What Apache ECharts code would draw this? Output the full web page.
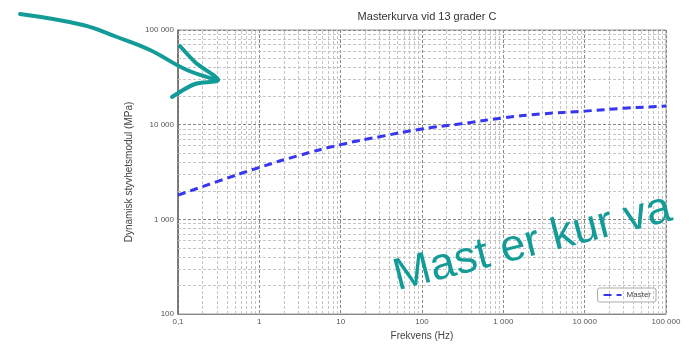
<!DOCTYPE html>
<html>
<head>
<meta charset="utf-8">
<script src="https://cdn.jsdelivr.net/npm/echarts@6/dist/echarts.min.js"></script>
<style>
html, body { margin: 0; padding: 0; background: #fff; }
#chart { width: 690px; height: 346px; }
</style>
</head>
<body>
<div id="chart"></div>
<script>
// data
var frekvens = [0.1, 0.3, 1, 3, 10, 30, 100, 300, 1000, 3000, 10000, 30000, 100000];
var modul = [1800, 2500, 3530, 4700, 6150, 7450, 9000, 10200, 11800, 13000, 13900, 14900, 15700];
var xDecades = [0.1, 1, 10, 100, 1000, 10000];
var yDecades = [100, 1000, 10000];
var legendName = 'Master';

var chart = echarts.init(document.getElementById('chart'));
var teal = '#139b97';

// swedish number format: space thousands, comma decimal
function fmt(v) {
    if (v < 1) return String(v).replace('.', ',');
    return String(Math.round(v)).replace(/\B(?=(\d{3})+(?!\d))/g, ' ');
}

// minor grid at 2..9 x decade
var minorLines = [];
xDecades.forEach(function (d) {
    for (var m = 2; m <= 9; m++) minorLines.push({ xAxis: +(d * m).toPrecision(3) });
});
yDecades.forEach(function (d) {
    for (var m = 2; m <= 9; m++) minorLines.push({ yAxis: d * m });
});

var option = {
    animation: false,
    title: {
        text: 'Masterkurva vid 13 grader C',
        left: 422, top: 6, textAlign: 'center',
        textStyle: { fontSize: 11, fontWeight: 'normal', color: '#333', fontFamily: 'Liberation Sans' }
    },
    grid: { left: 178, right: 24, top: 30, bottom: 28, show: true, borderColor: '#999', borderWidth: 1 },
    legend: {
        data: [legendName],
        right: 34, bottom: 44,
        orient: 'vertical',
        backgroundColor: '#fff',
        borderColor: '#aaa', borderWidth: 1, borderRadius: 2,
        padding: [3, 5],
        itemWidth: 18, itemHeight: 6, itemGap: 4,
        itemStyle: { opacity: 0 },
        textStyle: { fontSize: 8, color: '#444', fontFamily: 'Liberation Sans' }
    },
    xAxis: {
        type: 'log', logBase: 10, min: 0.1, max: 100000,
        name: 'Frekvens (Hz)', nameLocation: 'middle', nameGap: 17,
        nameTextStyle: { fontSize: 10, color: '#444', fontFamily: 'Liberation Sans' },
        axisLine: { lineStyle: { color: '#888' } },
        axisTick: { show: false },
        axisLabel: { fontSize: 8, color: '#555', margin: 4, formatter: fmt, fontFamily: 'Liberation Sans' },
        splitLine: { show: true, lineStyle: { color: '#888', type: [3, 2], width: 1 } }
    },
    yAxis: {
        type: 'log', logBase: 10, min: 100, max: 100000,
        name: 'Dynamisk styvhetsmodul (MPa)', nameLocation: 'middle', nameGap: 40,
        nameTextStyle: { fontSize: 10, color: '#444', fontFamily: 'Liberation Sans' },
        axisLine: { show: true, lineStyle: { color: '#666', width: 1.5 } },
        axisTick: { show: false },
        axisLabel: { fontSize: 8, color: '#555', margin: 4, formatter: fmt, fontFamily: 'Liberation Sans' },
        splitLine: { show: true, lineStyle: { color: '#888', type: [3, 2], width: 1 } }
    },
    series: [
        {
            name: 'grid',
            type: 'line',
            data: [],
            silent: true,
            z: 1,
            markLine: {
                silent: true, symbol: 'none', animation: false,
                label: { show: false },
                lineStyle: { color: '#c4c4c4', type: [3, 2], width: 1 },
                data: minorLines
            }
        },
        {
            name: legendName,
            type: 'line',
            z: 5,
            data: frekvens.map(function (f, i) { return [f, modul[i]]; }),
            smooth: true,
            symbol: 'none',
            itemStyle: { color: '#3535f2' },
            lineStyle: { color: '#3535f2', width: 3, type: [8, 5] }
        }
    ],
    graphic: [
        {
            type: 'polyline', z: 100,
            shape: { points: [[20, 14], [83, 25], [117, 37], [150, 50], [187, 70], [218, 80]], smooth: 0.4 },
            style: { stroke: teal, lineWidth: 4, fill: null, lineCap: 'round' }
        },
        {
            type: 'polyline', z: 100,
            shape: { points: [[180, 46], [196, 63], [218, 80], [195, 84], [172, 97]], smooth: 0.3 },
            style: { stroke: teal, lineWidth: 4, fill: null, lineCap: 'round', lineJoin: 'round' }
        },
        {
            type: 'text', z: 100,
            x: 400, y: 300, rotation: 0.25,
            style: {
                text: 'Mast er kur va',
                fontSize: 45, fontFamily: 'Liberation Sans',
                fill: teal, verticalAlign: 'bottom', align: 'left'
            }
        }
    ]
};

chart.setOption(option);
</script>
</body>
</html>
